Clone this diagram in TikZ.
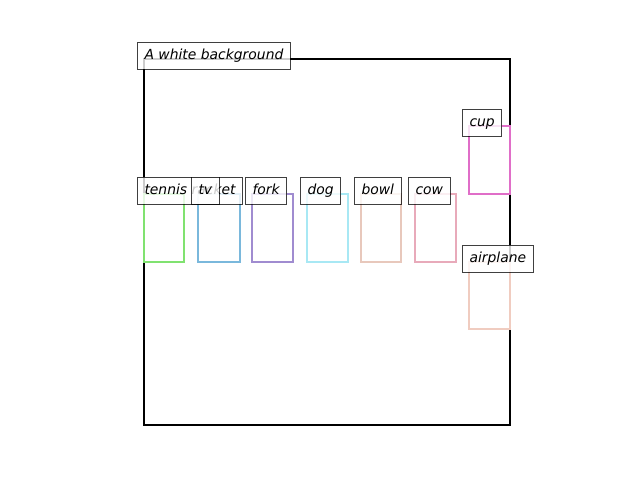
\documentclass[tikz,border=0pt]{standalone}
\usepackage{fontspec}
\setsansfont{DejaVu Sans}
\usepackage{tikz}
\usetikzlibrary{positioning}
\usepackage{xcolor}
\definecolor{racketgreen}{RGB}{128,226,112}
\definecolor{tvblue}{RGB}{122,184,220}
\definecolor{forkpurple}{RGB}{160,140,208}
\definecolor{dogcyan}{RGB}{168,232,244}
\definecolor{bowlbeige}{RGB}{232,200,188}
\definecolor{cowpink}{RGB}{232,170,186}
\definecolor{cupmagenta}{RGB}{224,110,200}
\definecolor{planepeach}{RGB}{240,204,192}
\tikzset{
  objbox/.style={line width=2.5pt},
  tag/.style={draw=black, draw opacity=0.75, fill=white, fill opacity=0.8, text opacity=1,
    font=\sffamily\itshape\fontsize{13.9}{16}\selectfont, line width=1pt,
    inner xsep=7pt, inner ysep=6.5pt, text height=10.5pt, text depth=3.5pt, anchor=base west}
}

\begin{document}
\begin{tikzpicture}[x=1pt,y=-1pt]
  \useasboundingbox (0,0) rectangle (640,480);
  % frame
  \draw[line width=2.2pt] (144,59) rectangle (510,425);
  % objects
  \draw[objbox, racketgreen] (144,194) rectangle (184,262);
  \draw[objbox, tvblue] (198,194) rectangle (240,262);
  \draw[objbox, forkpurple] (252,194) rectangle (293,262);
  \draw[objbox, dogcyan] (307,194) rectangle (348,262);
  \draw[objbox, bowlbeige] (361,194) rectangle (401,262);
  \draw[objbox, cowpink] (415,194) rectangle (456,262);
  \draw[objbox, cupmagenta] (469,126) rectangle (510,194);
  \draw[objbox, planepeach] (469,262) rectangle (510,329);
  % labels
  \node[tag] (background) at (137,59) {A white background};
  \node[tag] (racket) at (137,194) {tennis racket};
  \node[tag] (tv) at (191,194) {tv};
  \node[tag] (fork) at (245,194) {fork};
  \node[tag] (dog) at (300,194) {dog};
  \node[tag] (bowl) at (354,194) {bowl};
  \node[tag] (cow) at (408,194) {cow};
  \node[tag] (cup) at (462,126) {cup};
  \node[tag] (airplane) at (462,262) {airplane};
\end{tikzpicture}
\end{document}
